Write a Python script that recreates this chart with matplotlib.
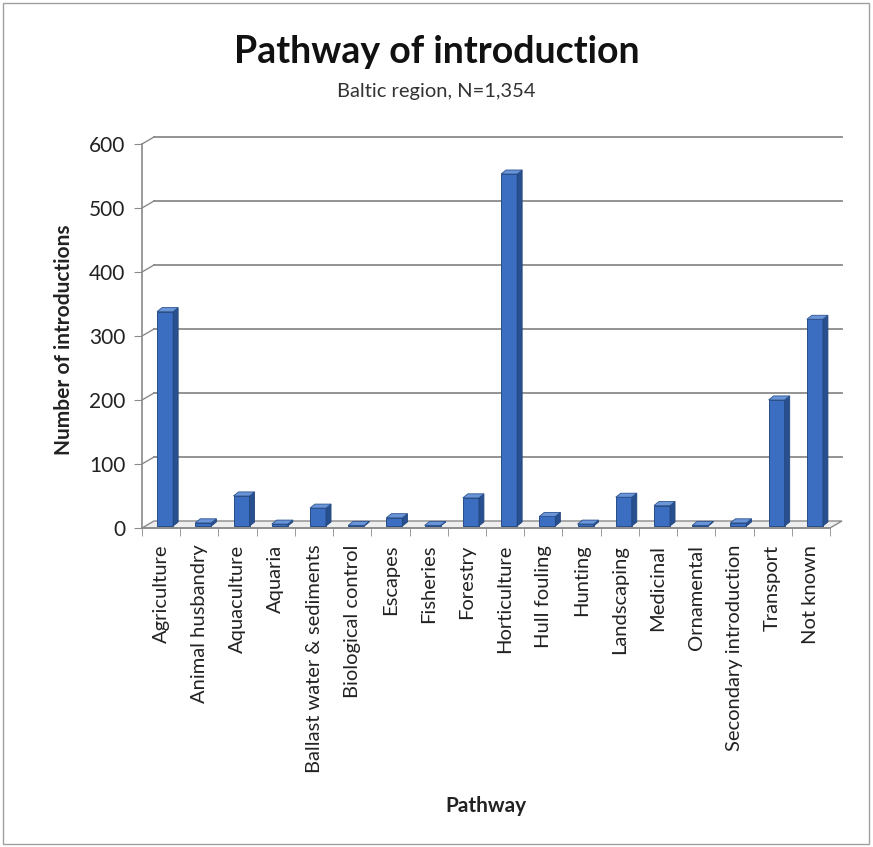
import matplotlib
matplotlib.use("Agg")
import matplotlib.pyplot as plt
from matplotlib.patches import Polygon, Rectangle
from matplotlib.transforms import ScaledTranslation, IdentityTransform
import numpy as np

pathways = ["Agriculture", "Animal husbandry", "Aquaculture", "Aquaria",
            "Ballast water & sediments", "Biological control", "Escapes",
            "Fisheries", "Forestry", "Horticulture", "Hull fouling", "Hunting",
            "Landscaping", "Medicinal", "Ornamental", "Secondary introduction",
            "Transport", "Not known"]
introductions = [335, 5, 47, 3, 28, 1, 13, 1, 44, 550, 15, 3, 45, 32, 1, 5, 197, 323]
y_ticks = [0, 100, 200, 300, 400, 500, 600]

plt.rcParams['font.family'] = ['Lato', 'DejaVu Sans']

DPI = 100
fig = plt.figure(figsize=(8.73, 8.47), dpi=DPI)
ax = fig.add_axes([142 / 873, 1 - 528 / 847, 688 / 873, 384 / 847])
ax.set_xlim(-0.5, len(pathways) - 0.5)
ax.set_ylim(0, 600)

grid_col = "#8a8a8a"
wall_dx, wall_dy = 12, 7     # depth of the back wall, in pixels
bar_dx, bar_dy = 5, 4        # depth of each column
bar_shift = ScaledTranslation(4 / DPI, 2 / DPI, fig.dpi_scale_trans)
wall_shift = ScaledTranslation(wall_dx / DPI, wall_dy / DPI, fig.dpi_scale_trans)

x0, x1 = ax.get_xlim()
px = IdentityTransform()

# back wall gridlines and the short links to the value axis
for v in y_ticks[1:]:
    ax.plot([x0, x1], [v, v], color=grid_col, lw=1.3,
            transform=ax.transData + wall_shift, zorder=1, clip_on=False)
    p = ax.transData.transform((x0, v))
    ax.plot([p[0], p[0] + wall_dx], [p[1], p[1] + wall_dy], color=grid_col,
            lw=1.0, transform=px, zorder=1, clip_on=False)

# floor
a = ax.transData.transform((x0, 0))
b = ax.transData.transform((x1, 0))
floor = Polygon([a, b, b + [wall_dx, wall_dy], a + [wall_dx, wall_dy]],
                closed=True, transform=px, facecolor="#eeeeee",
                edgecolor=grid_col, lw=1.0, zorder=1.5, clip_on=False)
ax.add_artist(floor)

# columns: front face from ax.bar, side and top faces as parallelograms
x = np.arange(len(pathways))
width = 0.42
ax.bar(x, introductions, width=width, color="#3B6DC0", edgecolor="#274b85",
       lw=0.7, transform=ax.transData + bar_shift, zorder=3)
for xi, h in zip(x, introductions):
    bl = ax.transData.transform((xi - width / 2, 0)) + [4, 2]
    br = ax.transData.transform((xi + width / 2, 0)) + [4, 2]
    tl = ax.transData.transform((xi - width / 2, h)) + [4, 2]
    tr = ax.transData.transform((xi + width / 2, h)) + [4, 2]
    d = np.array([bar_dx, bar_dy])
    side = Polygon([br, tr, tr + d, br + d], closed=True, transform=px,
                   facecolor="#28508f", edgecolor="#22457c", lw=0.6,
                   zorder=3, clip_on=False)
    top = Polygon([tl, tr, tr + d, tl + d], closed=True, transform=px,
                  facecolor="#6a95d8", edgecolor="#2c538f", lw=0.6,
                  zorder=3.1, clip_on=False)
    ax.add_artist(side)
    ax.add_artist(top)

# axes styling
for s in ["top", "right", "bottom"]:
    ax.spines[s].set_visible(False)
ax.spines["left"].set_color(grid_col)
ax.spines["left"].set_linewidth(1.2)
ax.set_yticks(y_ticks)
ax.tick_params(axis="y", direction="out", length=6, color=grid_col,
               labelsize=15, labelcolor="#222222", pad=6)
ax.set_xticks(x)
ax.set_xticklabels(pathways, rotation=90, fontsize=14.5, color="#222222")
ax.set_xticks(np.arange(-0.5, len(pathways)), minor=True)
ax.tick_params(axis="x", which="major", length=0, pad=12)
ax.tick_params(axis="x", which="minor", direction="out", length=6,
               color=grid_col)
ax.plot([x0, x1], [0, 0], color=grid_col, lw=1.2, zorder=2, clip_on=False)
ax.patch.set_visible(False)

fig.text(0.5, 1 - 52 / 847, "Pathway of introduction", ha="center",
         va="center", fontsize=27, fontweight="bold", color="#111111")
fig.text(0.5, 1 - 91 / 847, "Baltic region, N=1,354", ha="center",
         va="center", fontsize=14.5, color="#333333")
fig.text(64 / 873, 1 - 340 / 847, "Number of introductions", rotation=90,
         ha="center", va="center", fontsize=15, fontweight="bold",
         color="#222222")
fig.text(486 / 873, 1 - 806 / 847, "Pathway", ha="center", va="center",
         fontsize=15, fontweight="bold", color="#222222")

fig.add_artist(Rectangle((0.004, 0.003), 0.991, 0.993, transform=fig.transFigure,
                         fill=False, edgecolor="#a0a0a0", lw=1.0))

fig.savefig("out.png", dpi=DPI)
